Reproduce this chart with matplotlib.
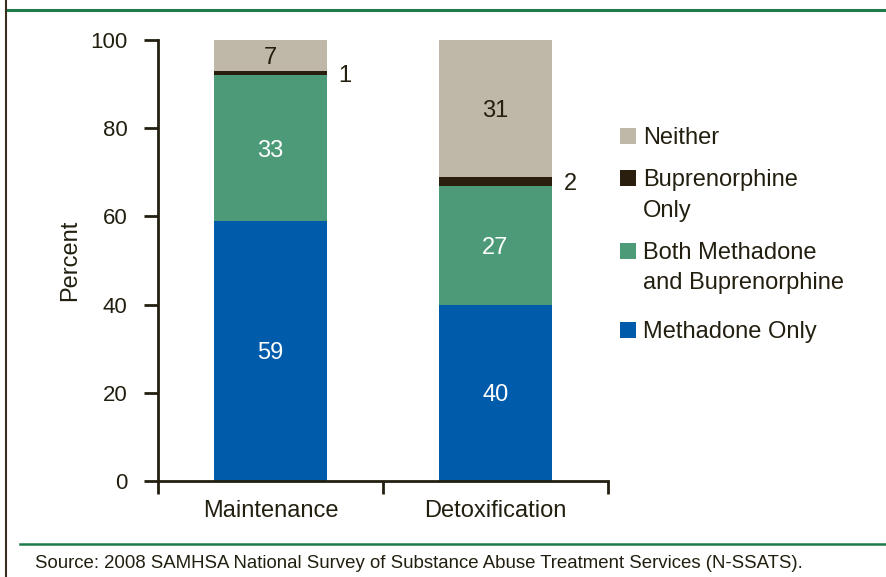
import matplotlib
matplotlib.use("Agg")
import matplotlib.pyplot as plt
from matplotlib.patches import Rectangle
from matplotlib.lines import Line2D

plt.rcParams['font.family'] = ['Liberation Sans', 'DejaVu Sans']

categories = ["Maintenance", "Detoxification"]
series_names = ["Methadone Only", "Both Methadone\nand Buprenorphine", "Buprenorphine\nOnly", "Neither"]
methadone_only = [59, 40]
both = [33, 27]
bup_only = [1, 2]
neither = [7, 31]
yticks = [0, 20, 40, 60, 80, 100]

colors = ["#005BAA", "#4C9A78", "#2A1E0E", "#BFB8A9"]
txt = "#231F10"
FS = 17

fig = plt.figure(figsize=(8.86, 5.77), dpi=100)
ax = fig.add_axes([158/886, 1-481/577, (608-158)/886, (481-40)/577])

series = [methadone_only, both, bup_only, neither]
x = list(range(len(categories)))
bottoms = [0, 0]
for i, vals in enumerate(series):
    ax.bar(x, vals, bottom=bottoms, width=0.505, color=colors[i], linewidth=0)
    for j, v in enumerate(vals):
        c = bottoms[j] + v / 2
        if i in (0, 1):
            ax.text(x[j], c, str(v), ha='center', va='center_baseline', color='white', fontsize=FS)
        elif i == 3:
            ax.text(x[j], c, str(v), ha='center', va='center_baseline', color=txt, fontsize=FS)
        else:
            ax.text(x[j] + 0.505/2 + 0.05, c, str(v), ha='left', va='center_baseline', color=txt, fontsize=FS)
    bottoms = [b + v for b, v in zip(bottoms, vals)]

ax.set_xlim(-0.5, 1.5)
ax.set_ylim(0, 100)
ax.set_yticks(yticks)
ax.set_yticklabels([str(t) for t in yticks], fontsize=16, color=txt)
ax.set_xticks(x)
ax.set_xticklabels(categories, fontsize=FS, color=txt)
ax.set_xticks([-0.5, 0.5, 1.5], minor=True)
ax.tick_params(axis='x', which='major', length=0, pad=14)
ax.tick_params(axis='x', which='minor', length=9, width=2, color=txt, direction='out')
ax.tick_params(axis='y', length=10, width=2, color=txt, pad=12)
for s in ['top', 'right']:
    ax.spines[s].set_visible(False)
for s in ['left', 'bottom']:
    ax.spines[s].set_linewidth(2)
    ax.spines[s].set_color(txt)
ax.set_ylabel("Percent", fontsize=FS, color=txt)
ax.yaxis.set_label_coords(-0.17, 0.5)

# legend: (lines, colour, baseline of each line in px from top)
leg_items = [(["Neither"], colors[3], [144]),
             (["Buprenorphine", "Only"], colors[2], [186, 217]),
             (["Both Methadone", "and Buprenorphine"], colors[1], [259, 289]),
             (["Methadone Only"], colors[0], [338])]
for lines, col, bases in leg_items:
    fig.add_artist(Rectangle((620/886, 1 - (bases[0] - 0.5)/577), 16/886, 16/577,
                             transform=fig.transFigure, color=col, lw=0))
    for line, b in zip(lines, bases):
        fig.text(643/886, 1 - b/577, line, fontsize=FS, color=txt, va='baseline', ha='left')

# frame lines
fig.add_artist(Line2D([6/886, 1], [1 - 10/577, 1 - 10/577], transform=fig.transFigure,
                      color="#1E7A4A", lw=2.2))
fig.add_artist(Line2D([6/886, 6/886], [0, 1], transform=fig.transFigure,
                      color="#3A2E1E", lw=1.5))
fig.add_artist(Line2D([20/886, 1], [1 - 544/577, 1 - 544/577], transform=fig.transFigure,
                      color="#1E7A4A", lw=1.8))
fig.text(35/886, 1 - 563/577, "Source: 2008 SAMHSA National Survey of Substance Abuse Treatment Services (N-SSATS).",
         fontsize=13.4, color=txt, va='center', ha='left')

fig.savefig("out.png", dpi=100)
